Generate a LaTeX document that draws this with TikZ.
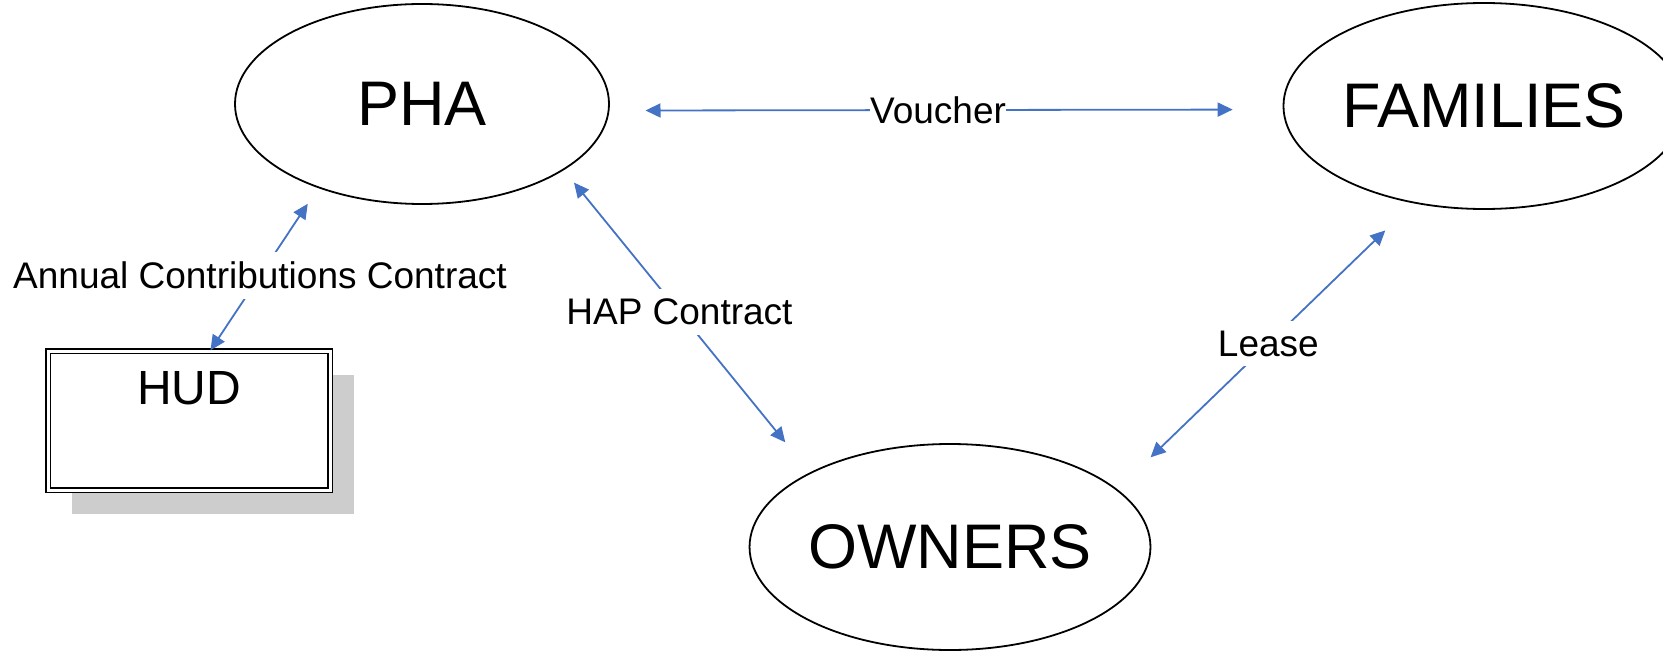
\documentclass[tikz,border=0pt]{standalone}
\usepackage{fontspec}
\setmainfont{Liberation Sans}
\usetikzlibrary{shapes.geometric,arrows.meta,shadows,positioning}
\definecolor{linkblue}{RGB}{68,114,196}
\definecolor{shadowgray}{RGB}{205,205,205}

\begin{document}
\begin{tikzpicture}[x=0.5pt,y=-0.5pt,
		party/.style={ellipse,draw,line width=0.9pt,inner sep=0pt,font=\fontsize{31.5}{36}\selectfont},
		link/.style={draw=linkblue,line width=0.9pt,>={Triangle[length=7.5pt,width=7pt]},<->},
		tag/.style={fill=white,inner xsep=0pt,inner ysep=5pt,font=\fontsize{18.5}{22}\selectfont}]
		\useasboundingbox (0,0) rectangle (1663,652);
		\node[party,minimum width=187pt,minimum height=100pt] (pha) at (422,104) {PHA};
		\node[party,minimum width=191pt,minimum height=103pt] (fam) at (1484,106) {FAMILIES};
		\node[party,minimum width=198pt,minimum height=103pt] (own) at (950,547) {OWNERS};
		\node[draw,fill=white,double,double distance=1.5pt,line width=0.75pt,
			minimum width=141pt,minimum height=69.5pt,
			drop shadow={shadow xshift=12pt,shadow yshift=-12pt,fill=shadowgray,opacity=1}] (hud) at (189,420.5) {};
		\node[below=7pt of hud.north,font=\fontsize{24}{28}\selectfont] (hudlabel) {HUD};
		\draw[link,shorten <=18pt,shorten >=25pt] (pha.-2) -- node[tag,pos=0.488] (voucher) {Voucher} (fam.181);
		\draw[link,shorten <=8pt,shorten >=19.4pt] (pha.-25) -- node[tag,pos=0.47] (hap) {HAP Contract} (own.152);
		\draw[link,shorten <=19.5pt,shorten >=23pt] (fam.-126) -- node[tag,pos=0.49] (lease) {Lease} (own.19);
		\draw[link,shorten <=9.4pt] (pha.-141) -- node[tag,pos=0.54] (acc) {Annual Contributions Contract} (hud.73);
\end{tikzpicture}
\end{document}
